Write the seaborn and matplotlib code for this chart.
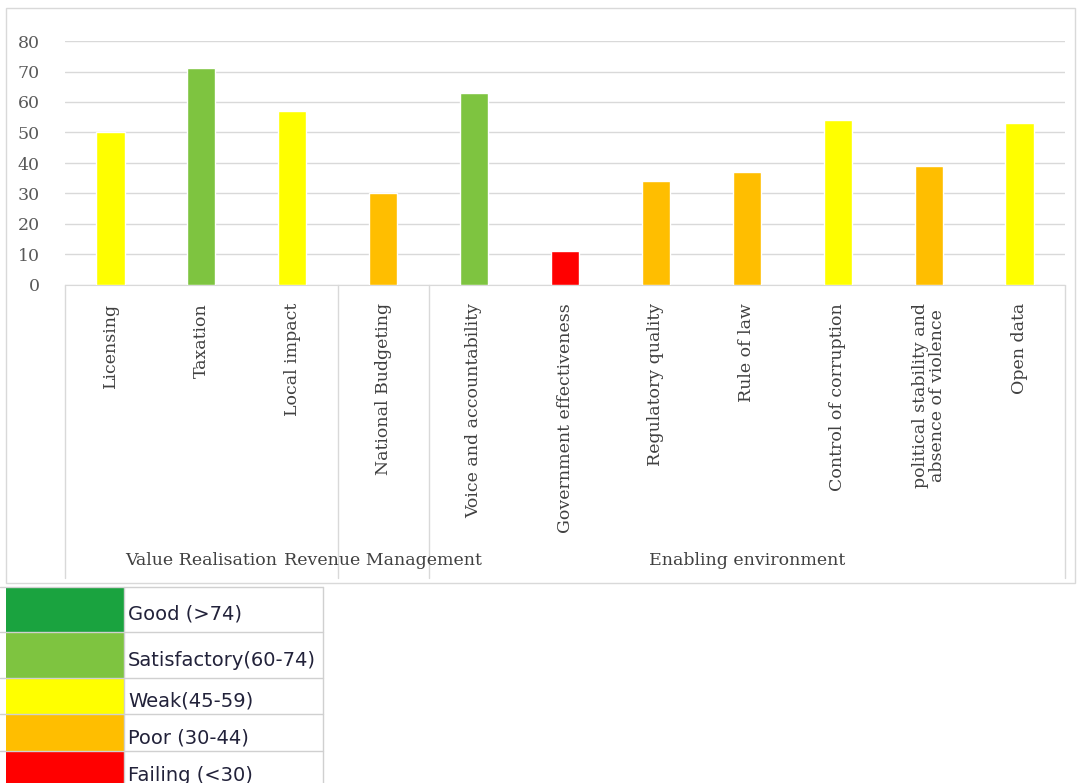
import matplotlib
matplotlib.use("Agg")
import matplotlib.pyplot as plt
import matplotlib.transforms as mtransforms
from matplotlib.patches import Rectangle
import seaborn as sns
import pandas as pd

# ---------------- data ----------------
categories = ["Licensing", "Taxation", "Local impact", "National Budgeting",
              "Voice and accountability", "Government effectiveness",
              "Regulatory quality", "Rule of law", "Control of corruption",
              "political stability and\nabsence of violence", "Open data"]
values = [50, 71, 57, 30, 63, 11, 34, 37, 54, 39, 53]
groups = ["Value Realisation", "Value Realisation", "Value Realisation",
          "Revenue Management",
          "Enabling environment", "Enabling environment", "Enabling environment",
          "Enabling environment", "Enabling environment", "Enabling environment",
          "Enabling environment"]
y_ticks = [0, 10, 20, 30, 40, 50, 60, 70, 80]

rating_labels = ["Good (>74)", "Satisfactory(60-74)", "Weak(45-59)",
                 "Poor (30-44)", "Failing (<30)"]
rating_colors = ["#1AA33F", "#7EC440", "#FFFF00", "#FFBE00", "#FF0000"]
rating_floor = [75, 60, 45, 30, 0]

# ---------------- style ----------------
sns.set_style("white")
plt.rcParams["font.family"] = ["DejaVu Serif"]

def rating_color(v):
    for floor, col in zip(rating_floor, rating_colors):
        if v >= floor:
            return col
    return rating_colors[-1]

bar_colors = [rating_color(v) for v in values]
df = pd.DataFrame({"cat": categories, "val": values})

W, H = 1083, 783
fig = plt.figure(figsize=(W / 100, H / 100), dpi=100)
fig.patch.set_facecolor("white")

# chart frame
fig.add_artist(Rectangle((6 / W, 1 - 583 / H), 1069 / W, 575 / H,
                         transform=fig.transFigure, fill=False,
                         edgecolor="#D9D9D9", lw=1))

ax = fig.add_axes([65 / W, 1 - 285 / H, 1000 / W, 244 / H])
sns.barplot(data=df, x="cat", y="val", hue="cat", palette=bar_colors,
            width=0.31, saturation=1, legend=False, ax=ax, zorder=3)

ax.set_xlim(-0.5, len(categories) - 0.5)
ax.set_ylim(0, 80)
ax.set_yticks(y_ticks)
ax.yaxis.grid(True, color="#D9D9D9", lw=1)
ax.xaxis.grid(False)
ax.set_axisbelow(True)
for s in ["top", "right", "left"]:
    ax.spines[s].set_visible(False)
ax.spines["bottom"].set_color("#D9D9D9")
ax.set_xlabel("")
ax.set_ylabel("")
ax.set_xticks(range(len(categories)))
ax.set_xticklabels(categories, rotation=90, va="top", ha="center",
                   fontsize=12.5, color="#404040", linespacing=1.0)
ax.tick_params(axis="x", length=0, pad=13)
ax.tick_params(axis="y", length=0, pad=18, labelsize=12.5, labelcolor="#595959")

trans = mtransforms.blended_transform_factory(ax.transData, ax.transAxes)
for xs in [-0.5, 2.5, 3.5, len(categories) - 0.5]:
    ax.plot([xs, xs], [0, -1.2], transform=trans, color="#D9D9D9", lw=1,
            clip_on=False)

# group labels
seen = []
for g in groups:
    if g not in seen:
        seen.append(g)
for g in seen:
    idx = [i for i, gg in enumerate(groups) if gg == g]
    xc = (idx[0] + idx[-1]) / 2
    ax.text(xc, -1.131, g, transform=trans, ha="center", va="center",
            fontsize=12.5, color="#404040")

# ---------------- legend table ----------------
row_edges = [587, 632, 678, 714, 751, 790]
lax = fig.add_axes([0, 0, 1, 1])
lax.set_xlim(0, W)
lax.set_ylim(H, 0)
lax.axis("off")
for i, (lab, col) in enumerate(zip(rating_labels, rating_colors)):
    y0, y1 = row_edges[i], row_edges[i + 1]
    lax.add_patch(Rectangle((6, y0 + 1), 118, y1 - y0 - 1, facecolor=col,
                            edgecolor="none"))
    lax.text(128, (y0 + y1) / 2 + 5, lab, ha="left", va="center",
             fontsize=14, color="#22223A", family=["DejaVu Sans"])
for y in row_edges[:-1]:
    lax.plot([0, 323], [y, y], color="#D0D0D0", lw=1)
lax.plot([323, 323], [row_edges[0], H], color="#D0D0D0", lw=1)
lax.plot([124, 124], [row_edges[0], H], color="#D0D0D0", lw=1)

fig.savefig("out.png", dpi=100)
